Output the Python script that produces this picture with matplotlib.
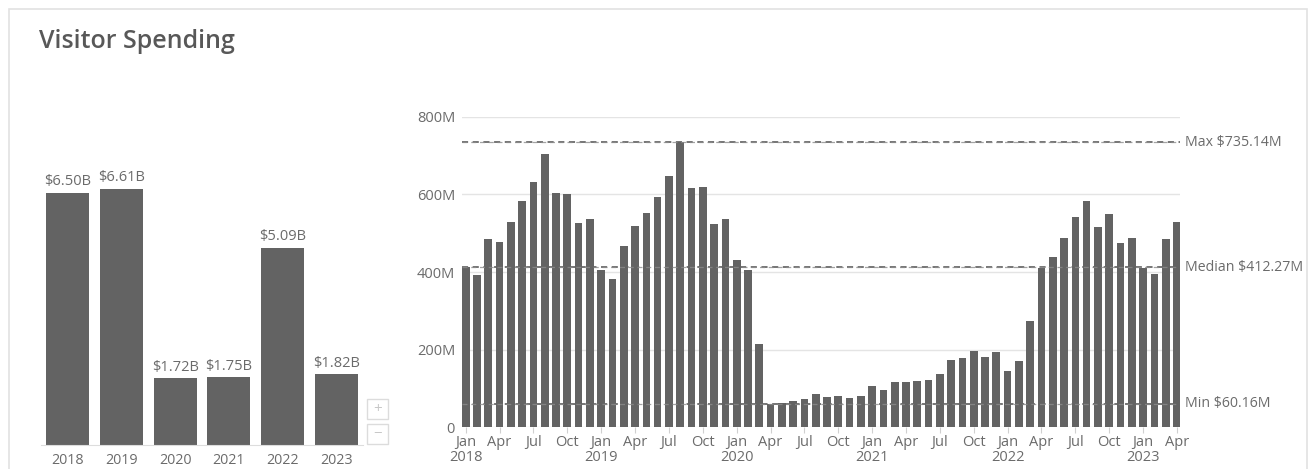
import matplotlib.pyplot as plt
from matplotlib.patches import Rectangle

plt.rcParams["font.family"] = ["Open Sans", "DejaVu Sans"]

W, H = 1310, 469

# ---- data ----
YEARS = ["2018", "2019", "2020", "2021", "2022", "2023"]
YEAR_TOTALS = [6.50, 6.61, 1.72, 1.75, 5.09, 1.82]  # $B

MONTH_NAMES = ["Jan", "Feb", "Mar", "Apr", "May", "Jun",
               "Jul", "Aug", "Sep", "Oct", "Nov", "Dec"]
SPEND_2018 = [414, 392, 485, 478, 530, 584, 631, 704, 603, 601, 526, 538]
SPEND_2019 = [405, 381, 467, 519, 553, 594, 649, 735.14, 616, 620, 523, 536]
SPEND_2020 = [431, 405, 213, 60.16, 63, 66, 73, 84, 77, 79, 75, 80]
SPEND_2021 = [106, 95, 116, 117, 118, 121, 138, 174, 179, 195, 181, 194]
SPEND_2022 = [144, 170, 274, 410, 440, 489, 541, 582, 517, 549, 476, 489]
SPEND_2023 = [410, 394, 484, 528]

REF_NAMES = ["Max", "Median", "Min"]
REF_VALUES = [735.14, 412.27, 60.16]  # $M

monthly = SPEND_2018 + SPEND_2019 + SPEND_2020 + SPEND_2021 + SPEND_2022 + SPEND_2023
first_year = int(YEARS[0])

BAR = "#636363"
TXT = "#6b6b6b"
GRID = "#e4e4e4"


def fx(px): return px / W
def fy(py): return 1 - py / H


fig = plt.figure(figsize=(W / 100, H / 100), dpi=100)

# card outline
fig.patches.append(Rectangle((fx(9), fy(475)), fx(1298), fy(9) - fy(475),
                             transform=fig.transFigure, fill=False,
                             edgecolor="#e2e2e2", lw=1.2))
fig.text(fx(39), fy(42), "Visitor Spending", fontsize=18, fontweight="semibold",
         color="#585858", va="center", ha="left")

# ---- left: yearly totals ----
axl = fig.add_axes([fx(41), fy(445), fx(363) - fx(41), fy(134.6) - fy(445)])
xs = range(len(YEARS))
axl.bar(xs, YEAR_TOTALS, width=0.8, color=BAR, zorder=2)
for x, v in zip(xs, YEAR_TOTALS):
    axl.annotate(f"${v:.2f}B", (x, v), xytext=(0, 2.5), textcoords="offset points",
                 ha="center", va="bottom", fontsize=10.5, color=TXT)
axl.set_xlim(-0.5, 5.5)
axl.set_ylim(0, 8)
axl.set_xticks(list(xs), YEARS)
axl.set_yticks([])
axl.tick_params(axis="x", length=0, pad=6, labelsize=10.3, labelcolor=TXT)
for s in ["top", "right", "left"]:
    axl.spines[s].set_visible(False)
axl.spines["bottom"].set_color("#dddddd")

# zoom buttons
for top, sign in [(399, "+"), (424, "\u2212")]:
    fig.patches.append(Rectangle((fx(367), fy(top + 20)), fx(21), fy(top) - fy(top + 20),
                                 transform=fig.transFigure, fill=False,
                                 edgecolor="#dcdcdc", lw=1))
    fig.text(fx(377.5), fy(top + 10), sign, fontsize=11, color="#c8c8c8",
             ha="center", va="center")

# ---- right: monthly spend ----
axr = fig.add_axes([fx(462), fy(427), fx(1180) - fx(462), fy(117) - fy(427)])
mx = range(len(monthly))
axr.bar(mx, monthly, width=0.68, color=BAR, zorder=2)
axr.set_xlim(-0.33, len(monthly) - 0.73)
axr.set_ylim(0, 800)
axr.set_yticks([0, 200, 400, 600, 800], ["0", "200M", "400M", "600M", "800M"])
axr.grid(axis="y", color=GRID, lw=1, zorder=0)
ticks = [i for i in mx if i % 3 == 0]
labels = []
for i in ticks:
    m = MONTH_NAMES[i % 12]
    labels.append(f"{m}\n{first_year + i // 12}" if i % 12 == 0 else m)
axr.set_xticks(ticks, labels)
axr.tick_params(axis="x", length=4, color="#d0d0d0", pad=2, labelsize=10.5, labelcolor=TXT)
axr.tick_params(axis="y", length=0, pad=5, labelsize=10.5, labelcolor=TXT)
for lbl in axr.get_xticklabels():
    lbl.set_linespacing(1.0)
for s in axr.spines.values():
    s.set_visible(False)

for name, val in zip(REF_NAMES, REF_VALUES):
    axr.axhline(val, color="#505050", lw=1.1, ls=(0, (4, 3)), zorder=1)
    axr.axhline(val, color="#8c8c8c", lw=0.9, ls=(0, (4, 3)), zorder=3, alpha=0.8)
    axr.annotate(f"{name} ${val:.2f}M", (1, val), xycoords=("axes fraction", "data"),
                 xytext=(3.5, 0), textcoords="offset points", ha="left", va="center",
                 fontsize=10.2, color=TXT, annotation_clip=False)

fig.savefig("out.png", dpi=100)
